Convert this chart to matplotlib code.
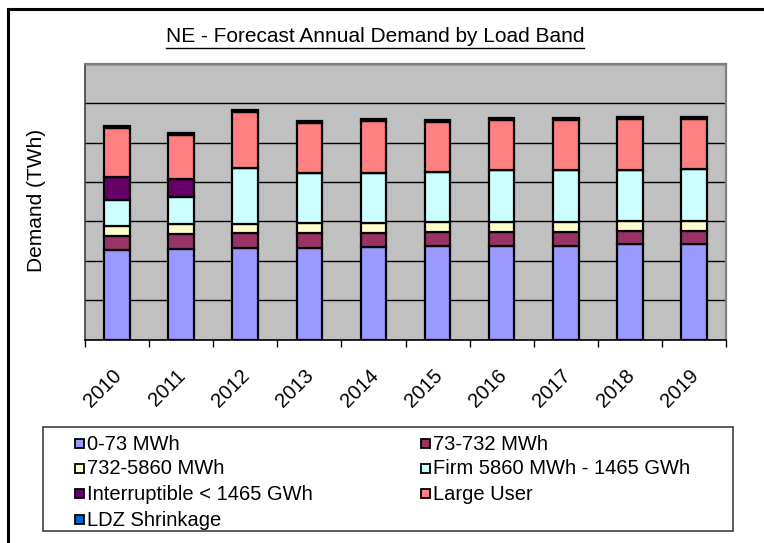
import matplotlib
matplotlib.use("Agg")
import matplotlib.pyplot as plt
from matplotlib.patches import Rectangle
from matplotlib.lines import Line2D
import matplotlib.transforms as mtrans
import numpy as np

plt.rcParams['font.family'] = ['Liberation Sans', 'DejaVu Sans']

years = ["2010", "2011", "2012", "2013", "2014", "2015", "2016", "2017", "2018", "2019"]
series_names = ["0-73 MWh", "73-732 MWh", "732-5860 MWh", "Firm 5860 MWh - 1465 GWh",
                "Interruptible < 1465 GWh", "Large User", "LDZ Shrinkage"]
band_0_73 = [22.7, 23.0, 23.3, 23.3, 23.6, 23.7, 23.7, 23.7, 24.2, 24.2]
band_73_732 = [3.7, 3.8, 3.7, 3.7, 3.4, 3.7, 3.7, 3.7, 3.4, 3.4]
band_732_5860 = [2.4, 2.5, 2.3, 2.7, 2.7, 2.4, 2.5, 2.5, 2.4, 2.6]
firm = [6.6, 7.0, 14.2, 12.5, 12.7, 12.8, 13.2, 13.2, 13.1, 13.1]
interruptible = [6.0, 4.4, 0, 0, 0, 0, 0, 0, 0, 0]
large_user = [12.4, 11.3, 14.2, 12.9, 13.0, 12.7, 12.6, 12.6, 13.0, 12.8]
ldz_shrinkage = [0.5, 0.5, 0.5, 0.5, 0.5, 0.5, 0.5, 0.5, 0.5, 0.5]
colors = ["#9999FF", "#993366", "#FFFFCC", "#CCFFFF", "#660066", "#FF8080", "#0066CC"]

W, H = 764, 543
fig = plt.figure(figsize=(W / 100, H / 100), dpi=100)
ax = fig.add_axes([85 / W, 1 - 339.5 / H, (726 - 85) / W, (339.5 - 64) / H])
ax.set_facecolor("#C0C0C0")

data = [band_0_73, band_73_732, band_732_5860, firm, interruptible, large_user, ldz_shrinkage]
x = np.arange(len(years))
bottom = np.zeros(len(years))
for vals, c, name in zip(data, colors, series_names):
    v = np.array(vals, dtype=float)
    ax.bar(x, v, bottom=bottom, width=0.4, color=c, edgecolor="black", linewidth=1.6,
           label=name, zorder=3)
    bottom += v

ax.set_xlim(-0.5, len(years) - 0.5)
ax.set_ylim(0, 70)
ax.set_yticks(np.arange(0, 71, 10))
ax.yaxis.grid(True, color="black", linewidth=1.0, zorder=1)
ax.tick_params(axis="y", length=0, labelleft=False)
ax.set_xticks(x)
ax.set_xticklabels(years, rotation=45, ha="right", va="top", rotation_mode="anchor",
                   fontsize=14.5)
ax.tick_params(axis="x", which="major", length=0, pad=19)
shift = mtrans.ScaledTranslation(-5 / 100, 0, fig.dpi_scale_trans)
for lbl in ax.get_xticklabels():
    lbl.set_transform(lbl.get_transform() + shift)
ax.set_xticks(np.arange(-0.5, len(years), 1), minor=True)
ax.tick_params(axis="x", which="minor", length=5, width=1.0, color="black")

for s in ["top", "right"]:
    ax.spines[s].set_color("#808080")
    ax.spines[s].set_linewidth(1.6)
ax.spines["left"].set_color("#404040")
ax.spines["left"].set_linewidth(1.2)
ax.spines["bottom"].set_color("black")
ax.spines["bottom"].set_linewidth(1.2)

fig.text(36 / W, 1 - 200 / H, "Demand (TWh)", rotation=90, ha="center", va="center",
         fontsize=15)

title = fig.text(375 / W, 1 - 37 / H, "NE - Forecast Annual Demand by Load Band",
                 ha="center", va="center", fontsize=15)

# Legend (manual layout)
fig.add_artist(Rectangle((43 / W, 1 - 531 / H), (733 - 43) / W, (531 - 427) / H,
                         transform=fig.transFigure, facecolor="white",
                         edgecolor="#404040", linewidth=1.2))
order = [(0, 0, 0), (1, 1, 0), (2, 0, 1), (3, 1, 1), (4, 0, 2), (5, 1, 2), (6, 0, 3)]
col_x = [75, 421]
row_y = [443, 468, 493, 519]
ms = 9
for idx, col, row in order:
    mx, my = col_x[col], row_y[row]
    fig.add_artist(Rectangle((mx / W, 1 - (my + ms / 2) / H), ms / W, ms / H,
                             transform=fig.transFigure, facecolor=colors[idx],
                             edgecolor="black", linewidth=1.3))
    fig.text((mx + ms + 3) / W, 1 - (my + 1) / H, series_names[idx], ha="left", va="center",
             fontsize=14.5)

# outer frame lines (top and left)
fig.add_artist(Line2D([8 / W, 1], [1 - 9 / H, 1 - 9 / H], transform=fig.transFigure,
                      color="black", linewidth=2.2))
fig.add_artist(Line2D([8 / W, 8 / W], [0, 1 - 9 / H], transform=fig.transFigure,
                      color="black", linewidth=2.2))

# underline title
fig.canvas.draw()
bb = title.get_window_extent(renderer=fig.canvas.get_renderer())
uy = bb.y0 - 1
fig.add_artist(Line2D([bb.x0 / W, bb.x1 / W], [uy / H, uy / H], transform=fig.transFigure,
                      color="black", linewidth=1.0))

fig.savefig("out.png", dpi=100)
